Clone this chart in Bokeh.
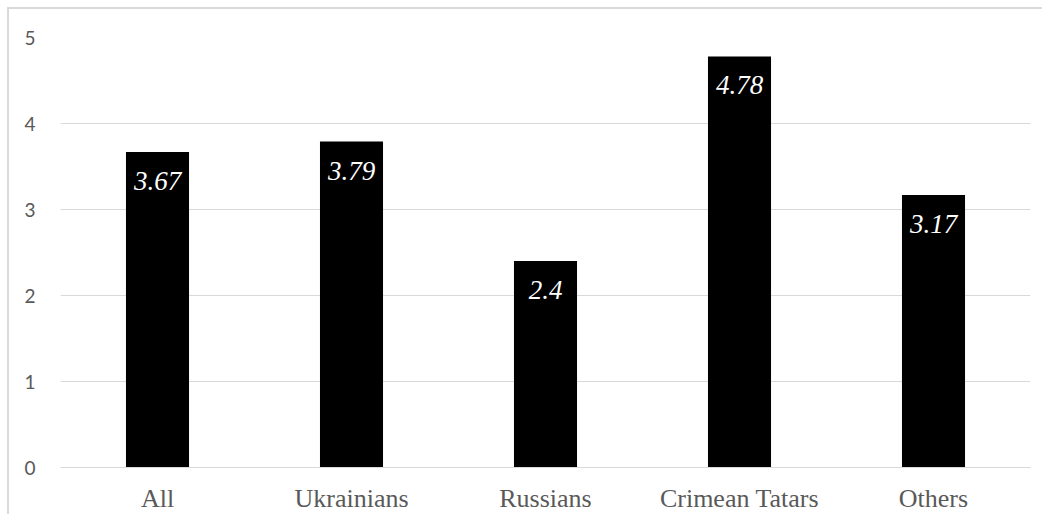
from bokeh.plotting import figure
from bokeh.models import ColumnDataSource, Range1d, FixedTicker
from bokeh.core.properties import value
from bokeh.embed import file_html
from bokeh.resources import INLINE

categories = ["All", "Ukrainians", "Russians", "Crimean Tatars", "Others"]
scores = [3.67, 3.79, 2.4, 4.78, 3.17]
labels = ["3.67", "3.79", "2.4", "4.78", "3.17"]
y_ticks = [0, 1, 2, 3, 4, 5]

SERIF = "Times New Roman"
SANS = "Lato"

source = ColumnDataSource(data=dict(cat=categories, score=scores, label=labels))

p = figure(
    x_range=categories,
    y_range=Range1d(0, 5),
    width=1035,
    height=507,
    output_backend="svg",
    toolbar_location=None,
    min_border_left=51,
    min_border_right=14,
    min_border_top=28,
    min_border_bottom=49,
    styles={
        "margin-left": "7px",
        "margin-top": "7px",
        "border-left": "2px solid #d9d9d9",
        "border-top": "2px solid #d9d9d9",
    },
)
p.outline_line_color = None

p.vbar(x="cat", top="score", width=0.325, source=source,
       fill_color="black", line_color=None)

# value labels inside the bar tops
p.text(x="cat", y="score", text="label", source=source,
       text_color="white", text_align="center", text_baseline="middle",
       y_offset=29, text_font_size="27px", text_font_style="italic",
       text_font=value(SERIF))

p.xgrid.grid_line_color = None
p.ygrid.grid_line_color = "#d9d9d9"
p.ygrid.grid_line_width = 1
p.yaxis.ticker = FixedTicker(ticks=y_ticks)

# y axis: tick labels only
p.yaxis.axis_line_color = None
p.yaxis.major_tick_line_color = None
p.yaxis.minor_tick_line_color = None
p.yaxis.major_label_standoff = 19
p.yaxis.major_label_text_font = SANS
p.yaxis.major_label_text_font_size = "19px"
p.yaxis.major_label_text_color = "#595959"

# x axis: baseline and category names
p.xaxis.axis_line_color = "#d9d9d9"
p.xaxis.major_tick_line_color = None
p.xaxis.minor_tick_line_color = None
p.xaxis.major_label_standoff = 10
p.xaxis.major_label_text_font = SERIF
p.xaxis.major_label_text_font_size = "26px"
p.xaxis.major_label_text_color = "#595959"

open("out.html", "w").write(file_html(p, INLINE))
